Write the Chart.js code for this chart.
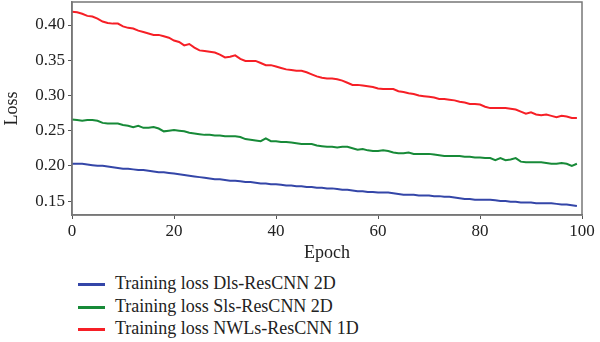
<!DOCTYPE html>
<html>
<head>
<meta charset="utf-8">
<script src="https://cdn.jsdelivr.net/npm/chart.js@4"></script>
<style>
    body { margin: 0; background: #fff; }
    #wrap { position: relative; width: 600px; height: 342px; }
    #loss_plot { position: absolute; left: 0; top: 0; }
    #legend { position: absolute; left: 78px; top: 272px; font-family: "Liberation Serif", serif; font-size: 18px; color: #222; }
    #legend .row { height: 22.5px; line-height: 22.5px; white-space: nowrap; }
    #legend .sw { display: inline-block; width: 27px; height: 3px; vertical-align: middle; margin-right: 10px; }
</style>
</head>
<body>
<div id="wrap">
    <canvas id="loss_plot" width="600" height="270"></canvas>
    <div id="legend"></div>
</div>
<script>
var epochs = [0,1,2,3,4,5,6,7,8,9,10,11,12,13,14,15,16,17,18,19,20,21,22,23,24,25,26,27,28,29,
    30,31,32,33,34,35,36,37,38,39,40,41,42,43,44,45,46,47,48,49,50,51,52,53,54,55,56,57,58,59,
    60,61,62,63,64,65,66,67,68,69,70,71,72,73,74,75,76,77,78,79,80,81,82,83,84,85,86,87,88,89,
    90,91,92,93,94,95,96,97,98,99];

var dlsLoss = [0.203,0.203,0.203,0.202,0.201,0.200,0.200,0.199,0.198,0.197,
    0.196,0.196,0.195,0.194,0.194,0.193,0.192,0.191,0.191,0.190,
    0.189,0.188,0.187,0.186,0.185,0.184,0.183,0.182,0.181,0.181,
    0.180,0.179,0.179,0.178,0.177,0.177,0.176,0.175,0.175,0.174,
    0.174,0.173,0.172,0.172,0.171,0.171,0.170,0.170,0.169,0.169,
    0.168,0.168,0.167,0.166,0.166,0.165,0.164,0.164,0.163,0.163,
    0.162,0.162,0.162,0.161,0.160,0.159,0.159,0.159,0.158,0.158,
    0.158,0.157,0.157,0.156,0.156,0.155,0.154,0.153,0.153,0.152,
    0.152,0.152,0.152,0.151,0.150,0.150,0.149,0.149,0.148,0.148,
    0.148,0.147,0.147,0.147,0.147,0.146,0.145,0.145,0.144,0.143];

var slsLoss = [0.266,0.265,0.264,0.265,0.265,0.264,0.261,0.260,0.260,0.260,
    0.258,0.257,0.255,0.257,0.254,0.254,0.255,0.253,0.249,0.250,
    0.251,0.250,0.249,0.247,0.246,0.245,0.244,0.244,0.243,0.243,
    0.242,0.242,0.242,0.241,0.238,0.237,0.236,0.235,0.239,0.235,
    0.235,0.234,0.234,0.233,0.232,0.231,0.231,0.231,0.229,0.228,
    0.227,0.227,0.226,0.227,0.227,0.225,0.223,0.224,0.222,0.221,
    0.221,0.222,0.221,0.219,0.218,0.218,0.219,0.217,0.217,0.217,
    0.217,0.216,0.215,0.214,0.214,0.214,0.214,0.213,0.213,0.212,
    0.212,0.211,0.211,0.208,0.211,0.208,0.209,0.211,0.206,0.205,
    0.205,0.205,0.205,0.204,0.203,0.203,0.204,0.203,0.200,0.203];

var nwlsLoss = [0.419,0.418,0.416,0.413,0.412,0.409,0.405,0.403,0.402,0.402,
    0.398,0.396,0.395,0.392,0.390,0.388,0.386,0.386,0.384,0.382,
    0.378,0.376,0.371,0.373,0.368,0.364,0.363,0.362,0.361,0.358,
    0.354,0.355,0.357,0.352,0.349,0.349,0.349,0.346,0.343,0.343,
    0.341,0.339,0.337,0.336,0.335,0.335,0.333,0.330,0.327,0.325,
    0.324,0.324,0.323,0.321,0.318,0.315,0.315,0.314,0.313,0.312,
    0.310,0.309,0.309,0.309,0.306,0.305,0.303,0.302,0.300,0.299,
    0.298,0.297,0.295,0.295,0.294,0.293,0.291,0.290,0.288,0.288,
    0.287,0.284,0.282,0.282,0.282,0.282,0.281,0.280,0.277,0.274,
    0.276,0.273,0.272,0.273,0.271,0.269,0.271,0.270,0.268,0.268];

var seriesNames = ['Training loss Dls-ResCNN 2D', 'Training loss Sls-ResCNN 2D', 'Training loss NWLs-ResCNN 1D'];
var seriesColors = ['#3446a8', '#178a38', '#f61f26'];

var serif = '"Liberation Serif", "DejaVu Serif", serif';

// box around the plot area, like matplotlib
var frame = {
    id: 'frame',
    afterDraw: function(chart) {
        var a = chart.chartArea, c = chart.ctx;
        c.save();
        c.strokeStyle = '#777';
        c.lineWidth = 1.5;
        c.strokeRect(a.left, a.top, a.right - a.left, a.bottom - a.top);
        c.restore();
    }
};

// legend written as html below the canvas
var htmlLegend = {
    id: 'htmlLegend',
    afterUpdate: function(chart) {
        var box = document.getElementById('legend');
        box.innerHTML = '';
        chart.data.datasets.forEach(function(ds) {
            var row = document.createElement('div');
            row.className = 'row';
            var sw = document.createElement('span');
            sw.className = 'sw';
            sw.style.background = ds.borderColor;
            row.appendChild(sw);
            row.appendChild(document.createTextNode(ds.label));
            box.appendChild(row);
        });
    }
};

var datasets = [dlsLoss, slsLoss, nwlsLoss].map(function(vals, i) {
    return {
        label: seriesNames[i],
        data: vals,
        borderColor: seriesColors[i],
        backgroundColor: seriesColors[i],
        borderWidth: 2,
        pointRadius: 0,
        tension: 0
    };
});

new Chart(document.getElementById('loss_plot'), {
    type: 'line',
    data: { labels: epochs, datasets: datasets },
    options: {
        responsive: false,
        animation: false,
        layout: { padding: { top: 2, right: 18, bottom: 0, left: 0 } },
        plugins: {
            legend: { display: false },
            tooltip: { enabled: false }
        },
        scales: {
            x: {
                type: 'linear',
                min: 0,
                max: 100,
                ticks: { stepSize: 20, color: '#222', padding: 2, font: { family: serif, size: 17 } },
                grid: { drawOnChartArea: false, drawTicks: true, tickLength: 4, color: '#555' },
                border: { display: true, color: '#777', width: 1.5 },
                title: { display: true, text: 'Epoch', color: '#222', font: { family: serif, size: 18 }, padding: { top: 0, bottom: 6 } },
                afterFit: function(scale) {
                    scale.height = 55;
                    scale.paddingLeft = 0;
                    scale.paddingRight = 0;
                }
            },
            y: {
                min: 0.1302,
                max: 0.4327,
                ticks: {
                    stepSize: 0.05,
                    includeBounds: false,
                    color: '#222',
                    padding: 3,
                    font: { family: serif, size: 17 },
                    callback: function(v) { return v.toFixed(2); }
                },
                grid: { drawOnChartArea: false, drawTicks: true, tickLength: 4, color: '#555' },
                border: { display: true, color: '#777', width: 1.5 },
                title: { display: true, text: 'Loss', color: '#222', font: { family: serif, size: 18 }, padding: { top: 1, bottom: 0 } },
                afterFit: function(scale) {
                    scale.width = 72;
                    scale.paddingTop = 0;
                    scale.paddingBottom = 0;
                }
            }
        }
    },
    plugins: [frame, htmlLegend]
});
</script>
</body>
</html>
